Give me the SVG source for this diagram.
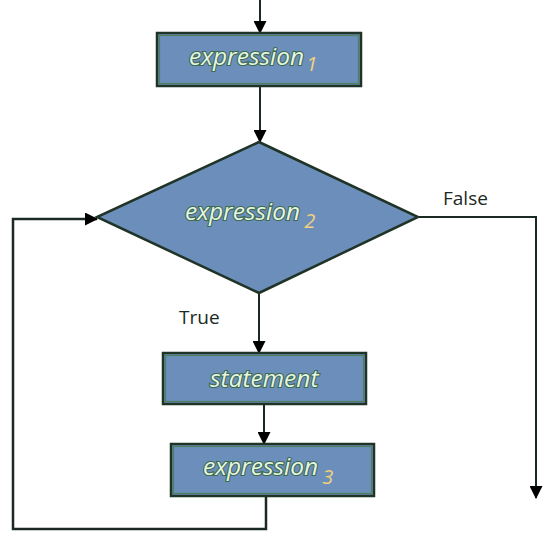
<svg xmlns="http://www.w3.org/2000/svg" width="552" height="559" viewBox="0 0 552 559">
<style>
.box{fill:#6c8ebb;stroke:#1f3326;stroke-width:2.5}
.inner{fill:none;stroke:#4f8060;stroke-width:1.2}
.lbl{font-family:"Open Sans","Noto Sans",sans-serif;font-style:italic;font-size:24.5px;fill:#e6f5e4;stroke:#3c6a4c;stroke-width:2.2;paint-order:stroke}
.sub{font-size:20px;fill:#f2d27a;stroke:none}
.edge{fill:none;stroke:#1a2a22;stroke-width:2}
.txt{font-family:"Open Sans","Noto Sans",sans-serif;font-size:19px;fill:#1a2a22}
</style>
<defs>
<marker id="ahb" markerWidth="13" markerHeight="13" refX="12" refY="6.5" orient="auto" markerUnits="userSpaceOnUse" viewBox="0 0 13 13">
<path d="M0,0 L13,6.5 L0,13 Z" fill="#000"/>
</marker>
</defs>
<g id="connectors">
<line class="edge" x1="260" y1="0" x2="260" y2="33" marker-end="url(#ahb)"/>
<line class="edge" x1="260" y1="86" x2="260" y2="142" marker-end="url(#ahb)"/>
<line class="edge" x1="259" y1="293" x2="259" y2="353" marker-end="url(#ahb)"/>
<line class="edge" x1="264" y1="404" x2="264" y2="444" marker-end="url(#ahb)"/>
<polyline class="edge" points="418,217 536,217 536,498" marker-end="url(#ahb)"/>
<polyline class="edge" points="266,496 266,529 13,529 13,219 97,219" marker-end="url(#ahb)" style="stroke-width:2.5"/>
</g>
<g id="expr1">
<rect class="box" x="157" y="33" width="204" height="53"/>
<rect class="inner" x="159.5" y="35.5" width="199" height="48"/>
<text class="lbl" x="189" y="65">expression<tspan class="sub" dx="2" dy="6">1</tspan></text>
</g>
<g id="expr2">
<polygon class="box" points="259,142 418,217 259,293 97,217"/>
<text class="lbl" x="185" y="220">expression<tspan class="sub" dx="4" dy="8">2</tspan></text>
</g>
<g id="statement">
<rect class="box" x="163" y="353" width="203" height="51"/>
<rect class="inner" x="165.5" y="355.5" width="198" height="46"/>
<text class="lbl" x="210" y="387">statement</text>
</g>
<g id="expr3">
<rect class="box" x="171" y="444" width="203" height="52"/>
<rect class="inner" x="173.5" y="446.5" width="198" height="47"/>
<text class="lbl" x="203" y="475">expression<tspan class="sub" dx="4" dy="9">3</tspan></text>
</g>
<g id="labels">
<text class="txt" x="443" y="205">False</text>
<text class="txt" x="179" y="324">True</text>
</g>
</svg>
